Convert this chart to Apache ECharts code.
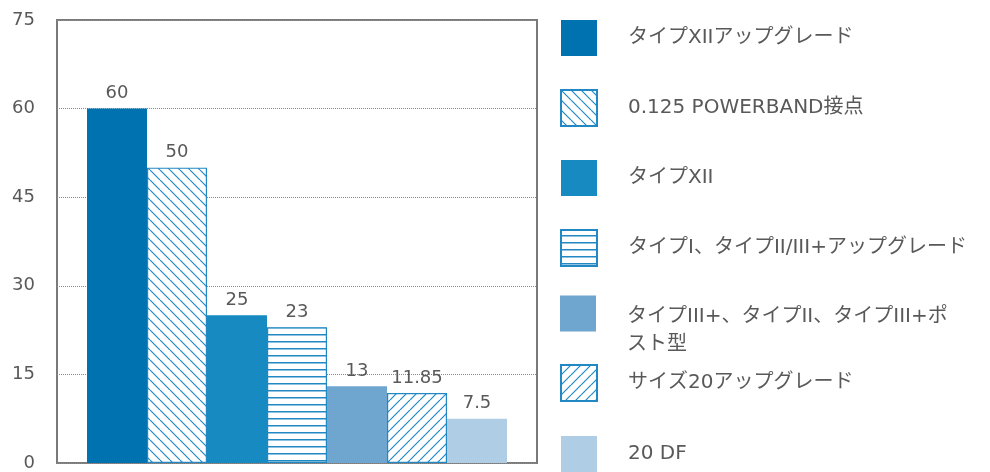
<!DOCTYPE html>
<html>
<head>
<meta charset="utf-8">
<script src="https://cdn.jsdelivr.net/npm/echarts@6/dist/echarts.min.js"></script>
<style>
html,body{margin:0;padding:0;background:#fff;overflow:hidden;}
#chart{width:990px;height:472px;}
</style>
</head>
<body>
<div id="chart"></div>
<script>
var seriesNames = [
  'タイプXIIアップグレード',
  '0.125 POWERBAND接点',
  'タイプXII',
  'タイプI、タイプII/III+アップグレード',
  'タイプIII+、タイプII、タイプIII+ポスト型',
  'サイズ20アップグレード',
  '20 DF'
];
var seriesValues = [60, 50, 25, 23, 13, 11.85, 7.5];
var categories = [''];
var yTicks = [0, 15, 30, 45, 60, 75];

var FONT = "'DejaVu Sans', 'Noto Sans CJK JP', sans-serif";
var TEXT = '#595959';
var LINE = '#2188c4';

function makePattern(kind) {
  var c = document.createElement('canvas');
  var ctx;
  if (kind === 'h') {
    c.width = 8; c.height = 7;
    ctx = c.getContext('2d');
    ctx.fillStyle = '#fff'; ctx.fillRect(0, 0, 8, 7);
    ctx.fillStyle = LINE; ctx.fillRect(0, 5, 8, 1.5);
    return c;
  }
  var s = 10;
  c.width = s; c.height = s;
  ctx = c.getContext('2d');
  ctx.fillStyle = '#fff'; ctx.fillRect(0, 0, s, s);
  ctx.strokeStyle = LINE; ctx.lineWidth = 1.2;
  ctx.beginPath();
  for (var k = -1; k <= 1; k++) {
    if (kind === 'b') {
      ctx.moveTo(k * s, 0); ctx.lineTo(k * s + s, s);
    } else {
      ctx.moveTo(k * s + s, 0); ctx.lineTo(k * s, s);
    }
  }
  ctx.stroke();
  return c;
}

var styles = [
  { color: '#0072b0' },
  { color: { image: makePattern('b'), repeat: 'repeat' }, borderColor: LINE, borderWidth: 1.2 },
  { color: '#168ac1' },
  { color: { image: makePattern('h'), repeat: 'repeat' }, borderColor: LINE, borderWidth: 1.2 },
  { color: '#6ea6cf' },
  { color: { image: makePattern('f'), repeat: 'repeat' }, borderColor: LINE, borderWidth: 1.2 },
  { color: '#b0cde6' }
];

var chart = echarts.init(document.getElementById('chart'));
var series = seriesNames.map(function (name, i) {
  return {
    name: name,
    type: 'bar',
    data: [seriesValues[i]],
    barWidth: 60,
    barGap: '0%',
    itemStyle: styles[i],
    label: {
      show: true,
      position: 'top',
      distance: 6,
      color: TEXT,
      fontFamily: FONT,
      fontSize: 18
    },
    emphasis: { disabled: true }
  };
});

function legendBase(extra) {
  var base = {
    orient: 'vertical',
    left: 560,
    padding: 0,
    itemWidth: 36, itemHeight: 36,
    icon: 'rect',
    selectedMode: false,
    textStyle: {
      color: TEXT, fontFamily: FONT, fontSize: 20,
      padding: [0, 0, 0, 26]
    }
  };
  for (var k in extra) base[k] = extra[k];
  return base;
}

chart.setOption({
  animation: false,
  grid: {
    left: 57, top: 20, right: 453, bottom: 3,
    show: true, borderColor: '#7a7a7a', borderWidth: 2, backgroundColor: 'transparent'
  },
  legend: [
    legendBase({ top: 20, itemGap: 33, data: seriesNames.slice(0, 4) }),
    legendBase({
      top: 280.5, data: seriesNames.slice(4, 5),
      formatter: function (n) { return '{s| }\n{a|タイプIII+、タイプII、タイプIII+ポ}\n{a|スト型}'; },
      textStyle: {
        color: TEXT, fontFamily: FONT, fontSize: 20,
        padding: [0, 0, 0, 26],
        rich: {
          s: { lineHeight: 34, fontSize: 10 },
          a: { lineHeight: 28, fontSize: 20, color: TEXT, fontFamily: FONT }
        }
      }
    }),
    legendBase({ top: 364, itemGap: 34, data: seriesNames.slice(5, 7) })
  ],
  xAxis: {
    type: 'category',
    data: categories,
    axisLine: { show: false },
    axisTick: { show: false },
    axisLabel: { show: false },
    splitLine: { show: false }
  },
  yAxis: {
    type: 'value',
    min: 0, max: 75, interval: 15,
    axisLine: { show: false },
    axisTick: { show: false },
    axisLabel: {
      color: TEXT, fontFamily: FONT, fontSize: 18, margin: 22,
      formatter: function (v) { return yTicks.indexOf(v) >= 0 ? String(v) : ''; }
    },
    splitLine: { show: true, lineStyle: { color: '#8a8a8a', type: [1, 1], width: 1 } }
  },
  series: series
});
</script>
</body>
</html>
